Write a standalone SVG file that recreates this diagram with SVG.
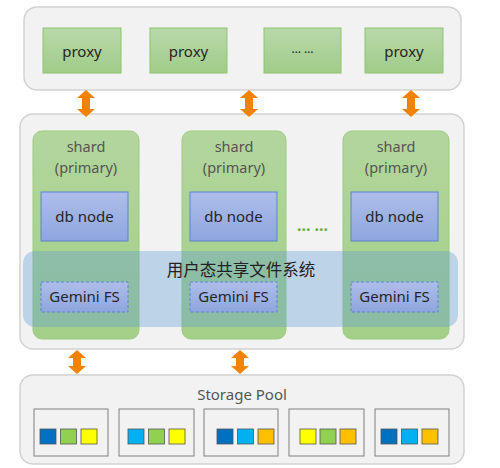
<svg xmlns="http://www.w3.org/2000/svg" width="500" height="468" viewBox="0 0 500 468">
<defs>
<linearGradient id="gProxy" x1="0" y1="0" x2="0" y2="1"><stop offset="0" stop-color="#B8D9AA"/><stop offset="1" stop-color="#A0CC88"/></linearGradient>
<linearGradient id="gBlue" x1="0" y1="0" x2="0" y2="1"><stop offset="0" stop-color="#AEBDEA"/><stop offset="1" stop-color="#8EA6DE"/></linearGradient>
<linearGradient id="gShard" x1="0" y1="0" x2="0" y2="1"><stop offset="0" stop-color="#B2D69D"/><stop offset="1" stop-color="#A3CF88"/></linearGradient>
<style>
.panel{fill:#F2F2F2;stroke:#D2D2D2;stroke-width:1.5}
.proxy{fill:url(#gProxy);stroke:#8CC46C;stroke-width:1}
.shard{fill:url(#gShard);stroke:#9CCB7E;stroke-width:1}
.db{fill:url(#gBlue);stroke:#5B83D0;stroke-width:1}
.fs{fill:url(#gBlue);stroke:#5B83D0;stroke-width:1;stroke-dasharray:3 2}
.band{fill:#5B9BD5;fill-opacity:0.35}
.arrow{fill:#F38200}
.t{font-family:"Noto Sans","Open Sans","Liberation Sans",sans-serif;font-size:15px;fill:#262626;text-anchor:middle}
.ts{fill:#555}
.sh{font-size:14.5px}
.cn{font-family:"Noto Sans CJK SC","Noto Sans",sans-serif;font-size:16.5px;fill:#222;text-anchor:middle}
.box{fill:#F2F2F2;stroke:#7F7F7F;stroke-width:1}
.sq{stroke:#555;stroke-width:0.8}
</style>
</defs>

<g id="proxy-layer">
<rect class="panel" x="24" y="7" width="437" height="83" rx="13"/>
<g id="proxy1"><rect class="proxy" x="43" y="28" width="78" height="45"/><text class="t" x="82" y="57">proxy</text></g>
<g id="proxy2"><rect class="proxy" x="150" y="28" width="77" height="45"/><text class="t" x="188.5" y="57">proxy</text></g>
<g id="proxy3"><rect class="proxy" x="264" y="28" width="77" height="45"/><text class="t" x="302.5" y="53" style="font-size:12px">… …</text></g>
<g id="proxy4"><rect class="proxy" x="365" y="28" width="78" height="45"/><text class="t" x="404" y="57">proxy</text></g>
</g>

<g id="shard-layer">
<rect class="panel" x="20" y="114" width="444" height="235" rx="13"/>
<g id="shard1"><rect class="shard" x="33" y="131" width="106" height="208" rx="9"/>
<text class="t ts sh" x="86" y="152">shard</text><text class="t ts sh" x="86" y="173">(primary)</text>
<rect class="db" x="41" y="192" width="87" height="49"/><text class="t" x="84.5" y="222">db node</text></g>
<g id="shard2"><rect class="shard" x="182" y="131" width="104" height="208" rx="9"/>
<text class="t ts sh" x="234" y="152">shard</text><text class="t ts sh" x="234" y="173">(primary)</text>
<rect class="db" x="190" y="192" width="87" height="49"/><text class="t" x="233.5" y="222">db node</text></g>
<g id="shard3"><rect class="shard" x="343" y="131" width="106" height="208" rx="9"/>
<text class="t ts sh" x="396" y="152">shard</text><text class="t ts sh" x="396" y="173">(primary)</text>
<rect class="db" x="351" y="192" width="87" height="49"/><text class="t" x="394.5" y="222">db node</text></g>
<text x="312.5" y="235" style="font-family:'Noto Sans',sans-serif;font-size:16px;font-weight:bold;fill:#70AD47;text-anchor:middle">··· ···</text>
<g id="shared-fs">
<rect class="band" x="23" y="251" width="435" height="76" rx="12"/>
<text class="cn" x="241" y="276">用户态共享文件系统</text>
<rect class="fs" x="41" y="282" width="87" height="30"/><text class="t" x="84.5" y="302">Gemini FS</text>
<rect class="fs" x="190" y="282" width="87" height="30"/><text class="t" x="233.5" y="302">Gemini FS</text>
<rect class="fs" x="351" y="282" width="87" height="30"/><text class="t" x="394.5" y="302">Gemini FS</text>
</g>
</g>

<g id="storage-pool">
<rect class="panel" x="20" y="375" width="444" height="89" rx="13"/>
<text class="t ts" x="242" y="400">Storage Pool</text>
<g id="disk1"><rect class="box" x="34" y="409" width="74" height="47"/>
<rect class="sq" x="40" y="429" width="16" height="15" fill="#0070C0"/><rect class="sq" x="60.5" y="429" width="16" height="15" fill="#92D050"/><rect class="sq" x="81" y="429" width="16" height="15" fill="#FFFF00"/></g>
<g id="disk2"><rect class="box" x="119" y="409" width="75" height="47"/>
<rect class="sq" x="128" y="429" width="16" height="15" fill="#00B0F0"/><rect class="sq" x="148.5" y="429" width="16" height="15" fill="#92D050"/><rect class="sq" x="169" y="429" width="16" height="15" fill="#FFFF00"/></g>
<g id="disk3"><rect class="box" x="204" y="409" width="74" height="47"/>
<rect class="sq" x="217" y="429" width="16" height="15" fill="#0070C0"/><rect class="sq" x="237.5" y="429" width="16" height="15" fill="#00B0F0"/><rect class="sq" x="258" y="429" width="16" height="15" fill="#FFC000"/></g>
<g id="disk4"><rect class="box" x="289" y="409" width="75" height="47"/>
<rect class="sq" x="300" y="429" width="16" height="15" fill="#FFFF00"/><rect class="sq" x="320" y="429" width="16" height="15" fill="#92D050"/><rect class="sq" x="340" y="429" width="16" height="15" fill="#FFC000"/></g>
<g id="disk5"><rect class="box" x="375" y="409" width="74" height="47"/>
<rect class="sq" x="381" y="429" width="16" height="15" fill="#0070C0"/><rect class="sq" x="401.5" y="429" width="16" height="15" fill="#00B0F0"/><rect class="sq" x="422" y="429" width="16" height="15" fill="#FFC000"/></g>
</g>

<g id="connectors">
<polygon class="arrow" points="86,90 95,98 90,98 90,109 95,109 86,117 77,109 82,109 82,98 77,98"/>
<polygon class="arrow" points="249,90 258,98 253,98 253,109 258,109 249,117 240,109 245,109 245,98 240,98"/>
<polygon class="arrow" points="411,90 420,98 415,98 415,109 420,109 411,117 402,109 407,109 407,98 402,98"/>
<polygon class="arrow" points="77,350 86,358 81,358 81,366 86,366 77,374 68,366 73,366 73,358 68,358"/>
<polygon class="arrow" points="240,350 249,358 244,358 244,366 249,366 240,374 231,366 236,366 236,358 231,358"/>
</g>
</svg>
